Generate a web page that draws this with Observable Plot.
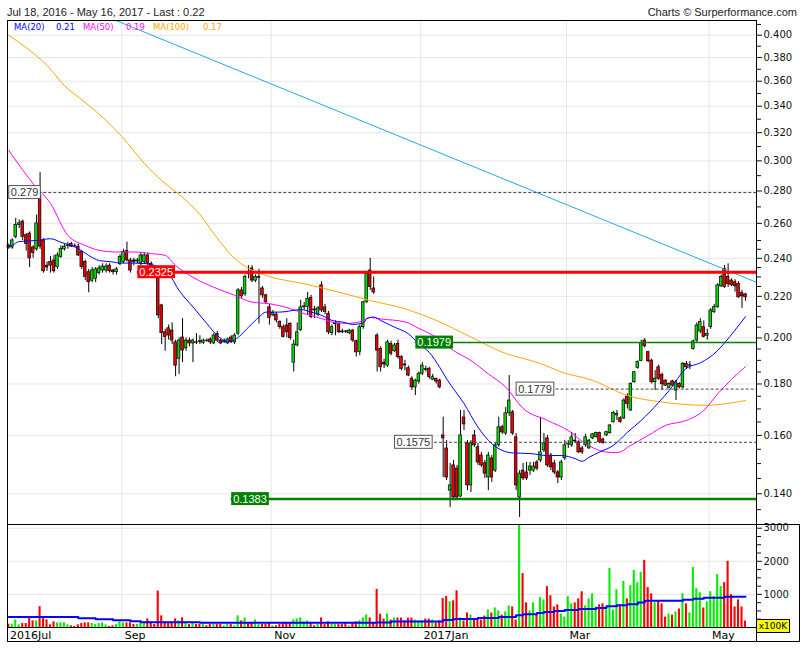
<!DOCTYPE html>
<html><head><meta charset="utf-8">
<script src="https://cdn.jsdelivr.net/npm/d3@7"></script>
<script src="https://cdn.jsdelivr.net/npm/@observablehq/plot@0.6"></script>
<style>
body{margin:0;background:#fff;}
#wrap{position:relative;width:805px;height:650px;overflow:hidden;background:#fff;font-family:"Liberation Sans",Arial,sans-serif;}
.abs{position:absolute;white-space:nowrap;}
.ln{position:absolute;background:#000;}
</style></head><body><div id="wrap"></div>
<script>
// ---------- DATA (trading-day index 0 = Jul 18 2016 ... 212 = May 16 2017) ----------
const openP = [
.2470,.2460,.2520,.2590,.2610,.2530,.2540,.2460,.2450,.2770,
.2500,.2360,.2380,.2388,.2352,.2407,.2450,.2468,.2480,.2470,
.2465,.2435,.2380,.2325,.2280,.2290,.2320,.2334,.2334,.2360,
.2334,.2325,.2370,.2380,.2440,.2388,.2388,.2383,.2370,.2380,
.2416,.2370,.2340,.2334,.2155,.2026,.2045,.2034,.1980,.1907,
.2002,.1953,.1988,.1975,.1980,.1985,.1978,.1988,.1993,.1975,
.2018,.1988,.1980,.1975,.2002,.1980,.2020,.2230,.2210,.2322,
.2345,.2280,.2295,.2240,.2205,.2145,.2106,.2110,.2074,.2050,
.2058,.2066,.1890,.1966,.2036,.2145,.2147,.2192,.2135,.2110,
.2256,.2145,.2114,.2022,.2064,.2063,.2030,.2030,.2022,.2034,
.1985,.1937,.2050,.2170,.2334,.2240,.2011,.1951,.1890,.1877,
.1973,.1940,.1973,.1914,.1882,.1866,.1822,.1786,.1810,.1843,
.1862,.1864,.1818,.1820,.1814,.1600,.1553,.1410,.1494,.1483,
.1391,.1667,.1571,.1427,.1600,.1557,.1528,.1501,.1453,.1518,
.1476,.1564,.1630,.1607,.1683,.1687,.1593,.1388,.1476,.1470,
.1476,.1476,.1504,.1511,.1546,.1589,.1528,.1501,.1470,.1453,
.1518,.1567,.1564,.1581,.1575,.1553,.1564,.1553,.1589,.1594,
.1609,.1585,.1600,.1608,.1650,.1675,.1664,.1663,.1748,.1694,
.1807,.1867,.1897,.1988,.1936,.1899,.1807,.1870,.1838,.1814,
.1784,.1811,.1773,.1800,.1786,.1885,.1877,.1950,.1988,.2030,
.2050,.2010,.2050,.2122,.2146,.2251,.2343,.2299,.2281,.2272,
.2264,.2216,.2210];
const closeP = [
.2460,.2500,.2590,.2600,.2520,.2480,.2400,.2430,.2600,.2465,
.2330,.2350,.2360,.2330,.2416,.2453,.2465,.2472,.2465,.2468,
.2416,.2352,.2300,.2272,.2334,.2340,.2345,.2355,.2355,.2330,
.2325,.2340,.2407,.2435,.2388,.2334,.2380,.2388,.2416,.2416,
.2370,.2340,.2325,.2106,.2022,.2005,.2011,.1988,.1877,.1988,
.1943,.1988,.1975,.1988,.1978,.1982,.1988,.1986,.1980,.2011,
.1988,.1975,.1985,.1993,.1980,.2011,.2230,.2200,.2300,.2315,
.2281,.2300,.2300,.2205,.2170,.2094,.2118,.2082,.2050,.2005,
.2026,.1999,.1970,.2026,.2145,.2150,.2186,.2098,.2130,.2140,
.2130,.2122,.2026,.2050,.2068,.2026,.2026,.2028,.2034,.1988,
.1935,.2050,.2170,.2317,.2248,.2220,.1943,.1870,.1882,.1980,
.1929,.1966,.1914,.1863,.1878,.1835,.1786,.1814,.1843,.1877,
.1858,.1829,.1828,.1810,.1786,.1589,.1453,.1427,.1388,.1388,
.1600,.1641,.1427,.1571,.1564,.1504,.1494,.1466,.1528,.1453,
.1564,.1630,.1611,.1683,.1733,.1607,.1427,.1466,.1450,.1450,
.1490,.1490,.1483,.1539,.1571,.1494,.1487,.1470,.1453,.1504,
.1564,.1568,.1593,.1578,.1539,.1539,.1593,.1581,.1604,.1609,
.1575,.1572,.1612,.1637,.1684,.1680,.1650,.1733,.1720,.1800,
.1849,.1894,.1977,.1962,.1896,.1807,.1822,.1821,.1799,.1793,
.1800,.1793,.1807,.1786,.1885,.1870,.1879,.1984,.2058,.2074,
.2005,.2018,.2130,.2146,.2256,.2299,.2248,.2262,.2256,.2251,
.2195,.2200,.2195];
const highP = [
.2480,.2510,.2630,.2620,.2620,.2540,.2550,.2470,.2650,.2920,
.2510,.2380,.2410,.2416,.2430,.2470,.2480,.2490,.2490,.2480,
.2480,.2440,.2390,.2340,.2350,.2350,.2360,.2370,.2370,.2370,
.2340,.2350,.2420,.2450,.2490,.2400,.2400,.2400,.2430,.2430,
.2430,.2380,.2350,.2340,.2160,.2040,.2060,.2070,.1990,.2000,
.2090,.2000,.2000,.1995,.2020,.2010,.1995,.1995,.2000,.2020,
.2030,.1995,.1995,.2000,.2010,.2020,.2240,.2245,.2310,.2360,
.2360,.2310,.2340,.2250,.2210,.2160,.2130,.2120,.2080,.2060,
.2090,.2070,.1990,.2070,.2180,.2170,.2220,.2205,.2150,.2150,
.2275,.2160,.2125,.2060,.2080,.2070,.2040,.2035,.2040,.2040,
.1990,.2060,.2175,.2330,.2400,.2300,.2020,.1960,.1905,.1990,
.1985,.1975,.1990,.1920,.1900,.1875,.1830,.1820,.1850,.1890,
.1875,.1870,.1840,.1825,.1820,.1668,.1581,.1501,.1511,.1494,
.1694,.1694,.1581,.1581,.1618,.1571,.1539,.1511,.1539,.1528,
.1571,.1668,.1637,.1706,.1835,.1694,.1607,.1476,.1501,.1504,
.1504,.1504,.1511,.1668,.1607,.1600,.1535,.1511,.1476,.1511,
.1581,.1581,.1611,.1607,.1581,.1560,.1604,.1585,.1607,.1612,
.1612,.1590,.1615,.1640,.1690,.1694,.1670,.1740,.1760,.1805,
.1852,.1897,.1990,.1997,.1940,.1905,.1856,.1880,.1845,.1818,
.1805,.1815,.1815,.1805,.1890,.1895,.1895,.1990,.2070,.2090,
.2080,.2040,.2140,.2160,.2265,.2310,.2361,.2370,.2290,.2285,
.2275,.2230,.2215];
const lowP = [
.2450,.2450,.2510,.2570,.2500,.2440,.2350,.2400,.2440,.2450,
.2320,.2330,.2320,.2320,.2340,.2400,.2440,.2450,.2460,.2460,
.2410,.2340,.2280,.2218,.2270,.2270,.2310,.2320,.2320,.2320,
.2310,.2310,.2360,.2370,.2380,.2320,.2360,.2370,.2360,.2370,
.2360,.2330,.2310,.2090,.1970,.1940,.1990,.1970,.1830,.1840,
.1890,.1940,.1960,.1890,.1970,.1970,.1970,.1980,.1970,.1970,
.1980,.1970,.1975,.1970,.1975,.1970,.2010,.2190,.2200,.2290,
.2270,.2270,.2065,.2190,.2160,.2060,.2100,.2070,.2040,.2000,
.2000,.1990,.1850,.1960,.2030,.2130,.2110,.2090,.2090,.2100,
.2120,.2110,.2015,.2010,.2010,.2020,.2020,.2020,.2015,.1980,
.1915,.1920,.2040,.2165,.2230,.2210,.1850,.1850,.1865,.1870,
.1920,.1935,.1905,.1855,.1855,.1830,.1773,.1753,.1800,.1835,
.1850,.1820,.1815,.1800,.1780,.1453,.1443,.1357,.1378,.1378,
.1388,.1618,.1410,.1404,.1557,.1494,.1487,.1450,.1410,.1437,
.1470,.1557,.1604,.1600,.1671,.1600,.1410,.1326,.1443,.1443,
.1460,.1470,.1476,.1504,.1539,.1487,.1476,.1463,.1433,.1443,
.1511,.1553,.1557,.1571,.1535,.1532,.1557,.1550,.1585,.1590,
.1570,.1568,.1596,.1605,.1645,.1656,.1645,.1660,.1700,.1690,
.1803,.1862,.1895,.1955,.1890,.1800,.1773,.1815,.1773,.1790,
.1780,.1788,.1733,.1780,.1780,.1860,.1860,.1945,.1980,.2020,
.2000,.1990,.2040,.2115,.2140,.2245,.2240,.2245,.2250,.2221,
.2190,.2140,.2175];
// volume in units of 100K
const volume = [
100,100,230,80,120,120,280,200,200,630,
300,230,80,170,140,140,140,80,50,30,
80,120,140,140,120,90,120,140,80,30,
50,90,170,140,140,140,90,90,120,160,
260,160,90,1100,350,160,120,120,260,200,
290,160,90,140,90,90,90,50,90,90,
90,90,50,90,90,50,350,200,290,140,
140,230,90,90,90,140,50,50,90,120,
140,140,230,260,290,170,200,140,50,90,
290,90,170,90,90,90,90,120,50,140,
170,200,290,380,290,140,1150,400,255,410,
225,285,285,285,195,285,285,225,195,195,
255,255,225,140,195,880,940,775,805,1110,
285,195,440,375,255,225,225,345,530,440,
590,500,375,470,650,620,225,3300,1630,745,
500,745,375,900,835,1235,960,620,685,410,
315,930,715,745,865,1080,650,865,1020,620,
685,715,620,1785,530,1140,685,1390,865,1265,
1725,1355,1665,2030,1205,1020,745,805,715,315,
410,375,470,560,1020,715,440,1815,1170,1050,
590,775,1080,930,1600,1235,1355,2000,990,620,
835,620,195];
// moving averages: [day index, value]
const ma20 = [[0,.2464],[1,.2472],[3,.2494],[8,.2500],[12,.2510],[15,.2490],[20,.2454],[23,.2416],[26,.2388],[30,.2380],[32,.2374],[36,.2374],[40,.2370],[42,.2361],[46,.2318],[49,.2230],[53,.2147],[57,.2067],[60,.2011],[63,.1984],[65,.1992],[69,.2050],[72,.2098],[74,.2122],[78,.2122],[84,.2134],[87,.2122],[90,.2106],[93,.2082],[96,.2074],[99,.2063],[102,.2069],[103,.2090],[105,.2098],[107,.2082],[111,.2050],[115,.2019],[118,.1973],[121,.1935],[124,.1870],[126,.1821],[131,.1721],[135,.1631],[139,.1570],[142,.1546],[145,.1537],[150,.1535],[155,.1528],[159,.1528],[163,.1517],[165,.1508],[167,.1522],[170,.1540],[174,.1564],[178,.1611],[182,.1656],[187,.1725],[190,.1773],[195,.1866],[199,.1889],[204,.1943],[206,.1978],[212,.2100]];
const ma50 = [[0,.3072],[7,.2848],[12,.2721],[17,.2529],[22,.2472],[26,.2444],[31,.2435],[36,.2435],[41,.2426],[45,.2416],[48,.2361],[53,.2298],[59,.2246],[65,.2205],[70,.2171],[75,.2163],[81,.2139],[85,.2115],[90,.2091],[94,.2071],[98,.2068],[101,.2075],[104,.2096],[107,.2089],[114,.2075],[118,.2044],[122,.2013],[128,.1943],[133,.1899],[138,.1842],[143,.1787],[148,.1702],[155,.1656],[161,.1618],[166,.1570],[172,.1540],[175,.1538],[179,.1564],[184,.1600],[189,.1637],[195,.1656],[200,.1694],[204,.1760],[208,.1819],[212,.1873]];
const ma100 = [[0,.3997],[5,.3889],[11,.3732],[16,.3565],[22,.3429],[28,.3290],[34,.3129],[39,.2982],[44,.2868],[51,.2740],[55,.2653],[59,.2540],[65,.2399],[69,.2345],[75,.2302],[85,.2264],[95,.2221],[104,.2179],[114,.2138],[123,.2082],[133,.2004],[142,.1936],[153,.1886],[159,.1850],[168,.1815],[178,.1753],[188,.1727],[194,.1718],[201,.1714],[206,.1720],[212,.1733]];
const volMA = [[0,320],[20,280],[25,250],[30,220],[35,190],[38,160],[55,140],[106,150],[110,183],[125,225],[128,255],[135,285],[141,316],[146,367],[148,398],[152,440],[154,470],[157,500],[160,530],[164,560],[169,590],[172,640],[175,673],[178,704],[181,755],[183,805],[194,835],[197,865],[200,900],[206,930],[212,930]];
const trend = [[30,.4148],[215,.2273]];
const levelValues = [0.279, 0.2325, 0.1979, 0.1779, 0.1575, 0.1383];
const levelLabels = ["0.279","0.2325","0.1979","0.1779","0.1575","0.1383"];
const levelFrom   = [0, 37, 117, 146, 111, 64];
const levelKind   = ["dash","red","green","dash","dash","green2"];
const monthIdx    = [0, 33, 76, 119, 161, 202];
const monthLabels = ["2016Jul","Sep","Nov","2017Jan","Mar","May"];
const priceMajor  = [0.14,0.16,0.18,0.20,0.22,0.24,0.26,0.28,0.30,0.32,0.34,0.36,0.38,0.40];
const volMajor    = [1000,2000,3000];

// ---------- BUILD ----------
const candles = openP.map((o,i)=>({i, open:o, close:closeP[i], high:highP[i], low:lowP[i], vol:volume[i], up: closeP[i] >= o}));
const levels = levelValues.map((v,k)=>({v, label:levelLabels[k], from:levelFrom[k], kind:levelKind[k]}));
const XD = [-0.374, 215.17];
const priceMinor = [...d3.range(27,50).map(k=>k*0.005), ...d3.range(25,42).map(k=>k*0.01)]
  .map(v=>+v.toFixed(3)).filter(v=>!priceMajor.some(m=>Math.abs(m-v)<1e-9));
const volMinor = d3.range(250,3001,250).filter(v=>!volMajor.includes(v));
const G="#00dd00", R="#ee0000";
const boxStyle = {dash:{bg:"#fff", stroke:"#555", text:"#333"}, red:{bg:"#ff0000", stroke:"none", text:"#fff"}, green:{bg:"#008000", stroke:"none", text:"#fff"}, green2:{bg:"#008000", stroke:"none", text:"#fff"}};

const price = Plot.plot({
  width:805, height:524, marginTop:20, marginBottom:0, marginLeft:7, marginRight:49,
  style:{background:"transparent", fontFamily:"DejaVu Sans", fontSize:"10px", color:"#111", overflow:"visible"},
  x:{type:"linear", domain:XD, axis:null, label:null},
  y:{type:"log", domain:[0.13048,0.41369], label:null},
  marks:[
    Plot.ruleY(priceMajor,{stroke:"#e6e6e6"}),
    Plot.ruleX(monthIdx.slice(1),{x:d=>d-0.5, stroke:"#e6e6e6"}),
    Plot.ruleX(candles,{x:"i", y1:"low", y2:"high", stroke:"#000", strokeWidth:1}),
    Plot.rect(candles,{x1:d=>d.i-0.38, x2:d=>d.i+0.38, y1:"open", y2:"close", fill:d=>d.up?G:R, stroke:"#000", strokeWidth:0.7}),
    Plot.line(ma100,{x:d=>d[0], y:d=>d[1], stroke:"#ffa500", strokeWidth:1, curve:"monotone-x"}),
    Plot.line(ma50,{x:d=>d[0], y:d=>d[1], stroke:"#ff00ff", strokeWidth:1, curve:"monotone-x"}),
    Plot.line(ma20,{x:d=>d[0], y:d=>d[1], stroke:"#0000ff", strokeWidth:1, curve:"monotone-x"}),
    Plot.line(trend,{x:d=>d[0], y:d=>d[1], stroke:"#22aae2", strokeWidth:1, clip:true}),
    Plot.ruleY(levels.filter(d=>d.kind==="dash"),{y:"v", x1:"from", x2:()=>XD[1], stroke:"#444", strokeDasharray:"3,2"}),
    Plot.ruleY(levels.filter(d=>d.kind==="red"),{y:"v", x1:"from", x2:()=>XD[1], stroke:"#ff0000", strokeWidth:3}),
    Plot.ruleY(levels.filter(d=>d.kind==="green"),{y:"v", x1:"from", x2:()=>XD[1], stroke:"#008000", strokeWidth:1.5}),
    Plot.ruleY(levels.filter(d=>d.kind==="green2"),{y:"v", x1:"from", x2:()=>XD[1], stroke:"#008000", strokeWidth:2.5}),
    Plot.text(levels,{x:"from", y:"v", text:"label", textAnchor:"start", dx:2, fill:d=>boxStyle[d.kind].text, fontFamily:"Liberation Sans", fontSize:11}),
    Plot.frame({stroke:"#000"}),
    Plot.axisY(priceMinor,{anchor:"right", tickSize:4, tickFormat:()=>"", label:null}),
    Plot.axisY(priceMajor,{anchor:"right", tickSize:5, tickPadding:2, tickFormat:d=>d.toFixed(3), label:null})
  ]
});

const vol = Plot.plot({
  width:805, height:118, marginTop:0, marginBottom:15, marginLeft:7, marginRight:49,
  style:{background:"transparent", fontFamily:"DejaVu Sans", fontSize:"10px", color:"#111", overflow:"visible"},
  x:{type:"linear", domain:XD, axis:null, label:null},
  y:{type:"linear", domain:[0,3112], label:null},
  marks:[
    Plot.ruleY(volMajor,{stroke:"#e6e6e6"}),
    Plot.ruleX(monthIdx.slice(1),{x:d=>d-0.5, stroke:"#e6e6e6"}),
    Plot.rect(candles,{x1:d=>d.i-0.3, x2:d=>d.i+0.3, y1:0, y2:"vol", fill:d=>d.up?"#00ee00":"#ff0000", clip:true}),
    Plot.line(volMA,{x:d=>d[0], y:d=>d[1], curve:"step-after", stroke:"#0000ff", strokeWidth:2}),
    Plot.frame({stroke:"#000"}),
    Plot.axisY(volMinor,{anchor:"right", tickSize:4, tickFormat:()=>"", label:null}),
    Plot.axisY(volMajor,{anchor:"right", tickSize:5, tickPadding:2, tickFormat:d=>String(d), label:null}),
    Plot.text(monthIdx,{x:d=>d-0.5, text:(d,k)=>monthLabels[k], frameAnchor:"bottom", textAnchor:"start", lineAnchor:"bottom", dx:3, dy:11, fontFamily:"DejaVu Sans", fontSize:11, fill:"#000"})
  ]
});

const wrap = document.getElementById("wrap");
price.style.position="absolute"; price.style.left="0px"; price.style.top="0px";
vol.style.position="absolute"; vol.style.left="0px"; vol.style.top="524px";
wrap.appendChild(price); wrap.appendChild(vol);

// boxes behind the level labels
price.querySelectorAll("text").forEach(t=>{
  const k = levelLabels.indexOf(t.textContent.trim());
  if (k < 0) return;
  const st = boxStyle[levelKind[k]];
  const b = t.getBBox();
  const r = document.createElementNS("http://www.w3.org/2000/svg","rect");
  r.setAttribute("x", b.x-2); r.setAttribute("y", b.y-0.5);
  r.setAttribute("width", b.width+4); r.setAttribute("height", b.height+1);
  const tr = t.getAttribute("transform"); if (tr) r.setAttribute("transform", tr);
  r.setAttribute("fill", st.bg); r.setAttribute("stroke", st.stroke);
  r.setAttribute("stroke-width", "1");
  t.parentNode.insertBefore(r, t);
});

function addDiv(cls, css, html){ const d=document.createElement("div"); d.className=cls; d.style.cssText=css; if(html) d.innerHTML=html; wrap.appendChild(d); return d; }
addDiv("abs","left:7px;top:7px;font-size:11px;line-height:11px;color:#222;","Jul 18, 2016 - May 16, 2017 - Last : 0.22");
addDiv("abs","right:8px;top:7px;font-size:11px;line-height:11px;color:#222;","Charts © Surperformance.com");
const lg = "top:23px;font-family:'DejaVu Sans';font-size:8.5px;line-height:9px;";
addDiv("abs",lg+"left:14px;color:#0000ff;","MA(20)");
addDiv("abs",lg+"left:56px;color:#0000ff;","0.21");
addDiv("abs",lg+"left:83px;color:#ff00ff;","MA(50)");
addDiv("abs",lg+"left:126px;color:#ff00ff;","0.19");
addDiv("abs",lg+"left:153px;color:#ffa500;","MA(100)");
addDiv("abs",lg+"left:203px;color:#ffa500;","0.17");
addDiv("abs","left:756px;top:619px;width:32px;height:12px;background:#ffff00;border:1px solid #000;font-family:'DejaVu Sans';font-size:9px;line-height:12px;text-align:center;color:#000;","x100K");
addDiv("ln","left:7px;top:641px;width:793px;height:1px;");
addDiv("ln","left:756px;top:524px;width:44px;height:1px;");
addDiv("ln","left:799px;top:524px;width:1px;height:118px;");
addDiv("ln","left:7px;top:627px;width:1px;height:15px;");
addDiv("ln","left:756px;top:627px;width:1px;height:15px;");
</script></body></html>
